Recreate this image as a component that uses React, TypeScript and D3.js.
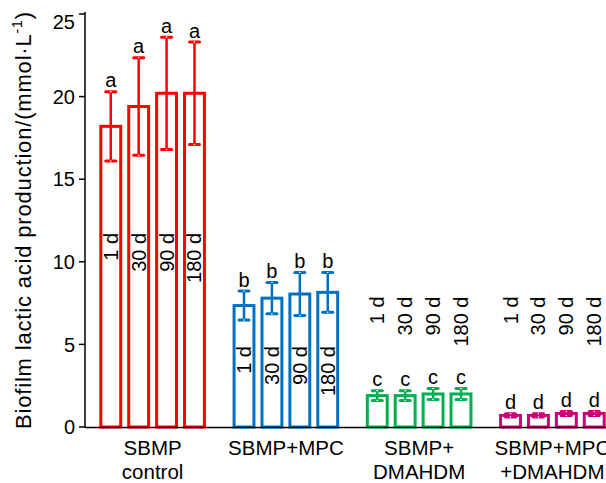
import React from 'react';
import * as d3 from 'd3';

const groups = ['SBMP\ncontrol', 'SBMP+MPC', 'SBMP+\nDMAHDM', 'SBMP+MPC\n+DMAHDM'];
const days = ['1 d', '30 d', '90 d', '180 d'];
const colors = ['#ff0000', '#0070c0', '#00b050', '#cc0077'];
const letters = ['a', 'b', 'c', 'd'];

// mean per group x day
const means = [
  [18.2, 19.4, 20.2, 20.2],
  [7.35, 7.8, 8.05, 8.15],
  [1.9, 1.9, 2.0, 2.0],
  [0.7, 0.7, 0.82, 0.82],
];
// standard deviation
const sds = [
  [2.1, 2.95, 3.4, 3.1],
  [0.88, 0.95, 1.3, 1.2],
  [0.3, 0.3, 0.33, 0.33],
  [0.1, 0.1, 0.12, 0.12],
];
// where the rotated day labels end (in data units)
const dayLabelAt = [11.75, 4.9, 7.9, 7.9];

const yTicks = [0, 5, 10, 15, 20, 25];

const W = 606, H = 483;
const FONT = 'Liberation Sans, Arial, sans-serif';

export default function App() {
  const y = d3.scaleLinear().domain([0, 25]).range([427, 14]);
  const x0 = d3.scaleBand().domain(groups).range([86, 619]).paddingInner(0.2).paddingOuter(0.1);
  const x1 = d3.scaleBand().domain(days).range([0, x0.bandwidth()]).paddingInner(0.18);
  const bw = x1.bandwidth();

  return (
    <div style={{ position: 'absolute', left: 0, top: 0 }}>
      <svg width={W} height={H} style={{ display: 'block', background: '#fff' }} fontFamily={FONT}>
        {/* y axis */}
        <line x1={85} x2={85} y1={12} y2={427} stroke="#000" strokeWidth={1.5} />
        {yTicks.map(t => (
          <g key={t}>
            <line x1={79} x2={85} y1={y(t)} y2={y(t)} stroke="#000" strokeWidth={1.5} />
            <text x={75} y={Math.max(y(t), 22)} dy="0.36em" textAnchor="end" fontSize={20}>{t}</text>
          </g>
        ))}
        <text transform={`translate(31,220.5) rotate(-90)`} textAnchor="middle" fontSize={22}
          textLength={417} lengthAdjust="spacing">
          Biofilm lactic acid production/(mmol·L<tspan dy={-9} fontSize={14}>-1</tspan><tspan dy={9}>)</tspan>
        </text>

        {groups.map((g, gi) => (
          <g key={g} transform={`translate(${x0(g)},0)`}>
            {days.map((d, di) => {
              const m = means[gi][di];
              const s = sds[gi][di];
              const cx = (x1(d) as number) + bw / 2;
              const c = colors[gi];
              return (
                <g key={d}>
                  <rect x={(x1(d) as number) + 1.5} y={y(m)} width={bw - 3} height={y(0) - y(m)}
                    fill="#fff" stroke={c} strokeWidth={3} />
                  <line x1={cx} x2={cx} y1={y(m + s)} y2={y(m - s)} stroke={c} strokeWidth={2.5} />
                  {[m + s, m - s].map((v, k) => (
                    <g key={k}>
                      <line x1={cx - 5} x2={cx + 5} y1={y(v)} y2={y(v)} stroke={c} strokeWidth={3} strokeLinecap="round" />
                      <circle cx={cx} cy={y(v)} r={0.8} fill="#fff" />
                    </g>
                  ))}
                  <text x={cx} y={y(m + s) - 4.5} textAnchor="middle" fontSize={20}>{letters[gi]}</text>
                  <text transform={`translate(${cx + 7},${y(dayLabelAt[gi])}) rotate(-90)`} textAnchor="end" fontSize={20}>{d}</text>
                </g>
              );
            })}
            {g.split('\n').map((line, li) => (
              <text key={li} x={x0.bandwidth() / 2} y={455 + li * 24} textAnchor="middle" fontSize={20.5}>{line}</text>
            ))}
          </g>
        ))}

        {/* x axis */}
        <line x1={85} x2={W} y1={427.5} y2={427.5} stroke="#000" strokeWidth={1.5} />
      </svg>
    </div>
  );
}
